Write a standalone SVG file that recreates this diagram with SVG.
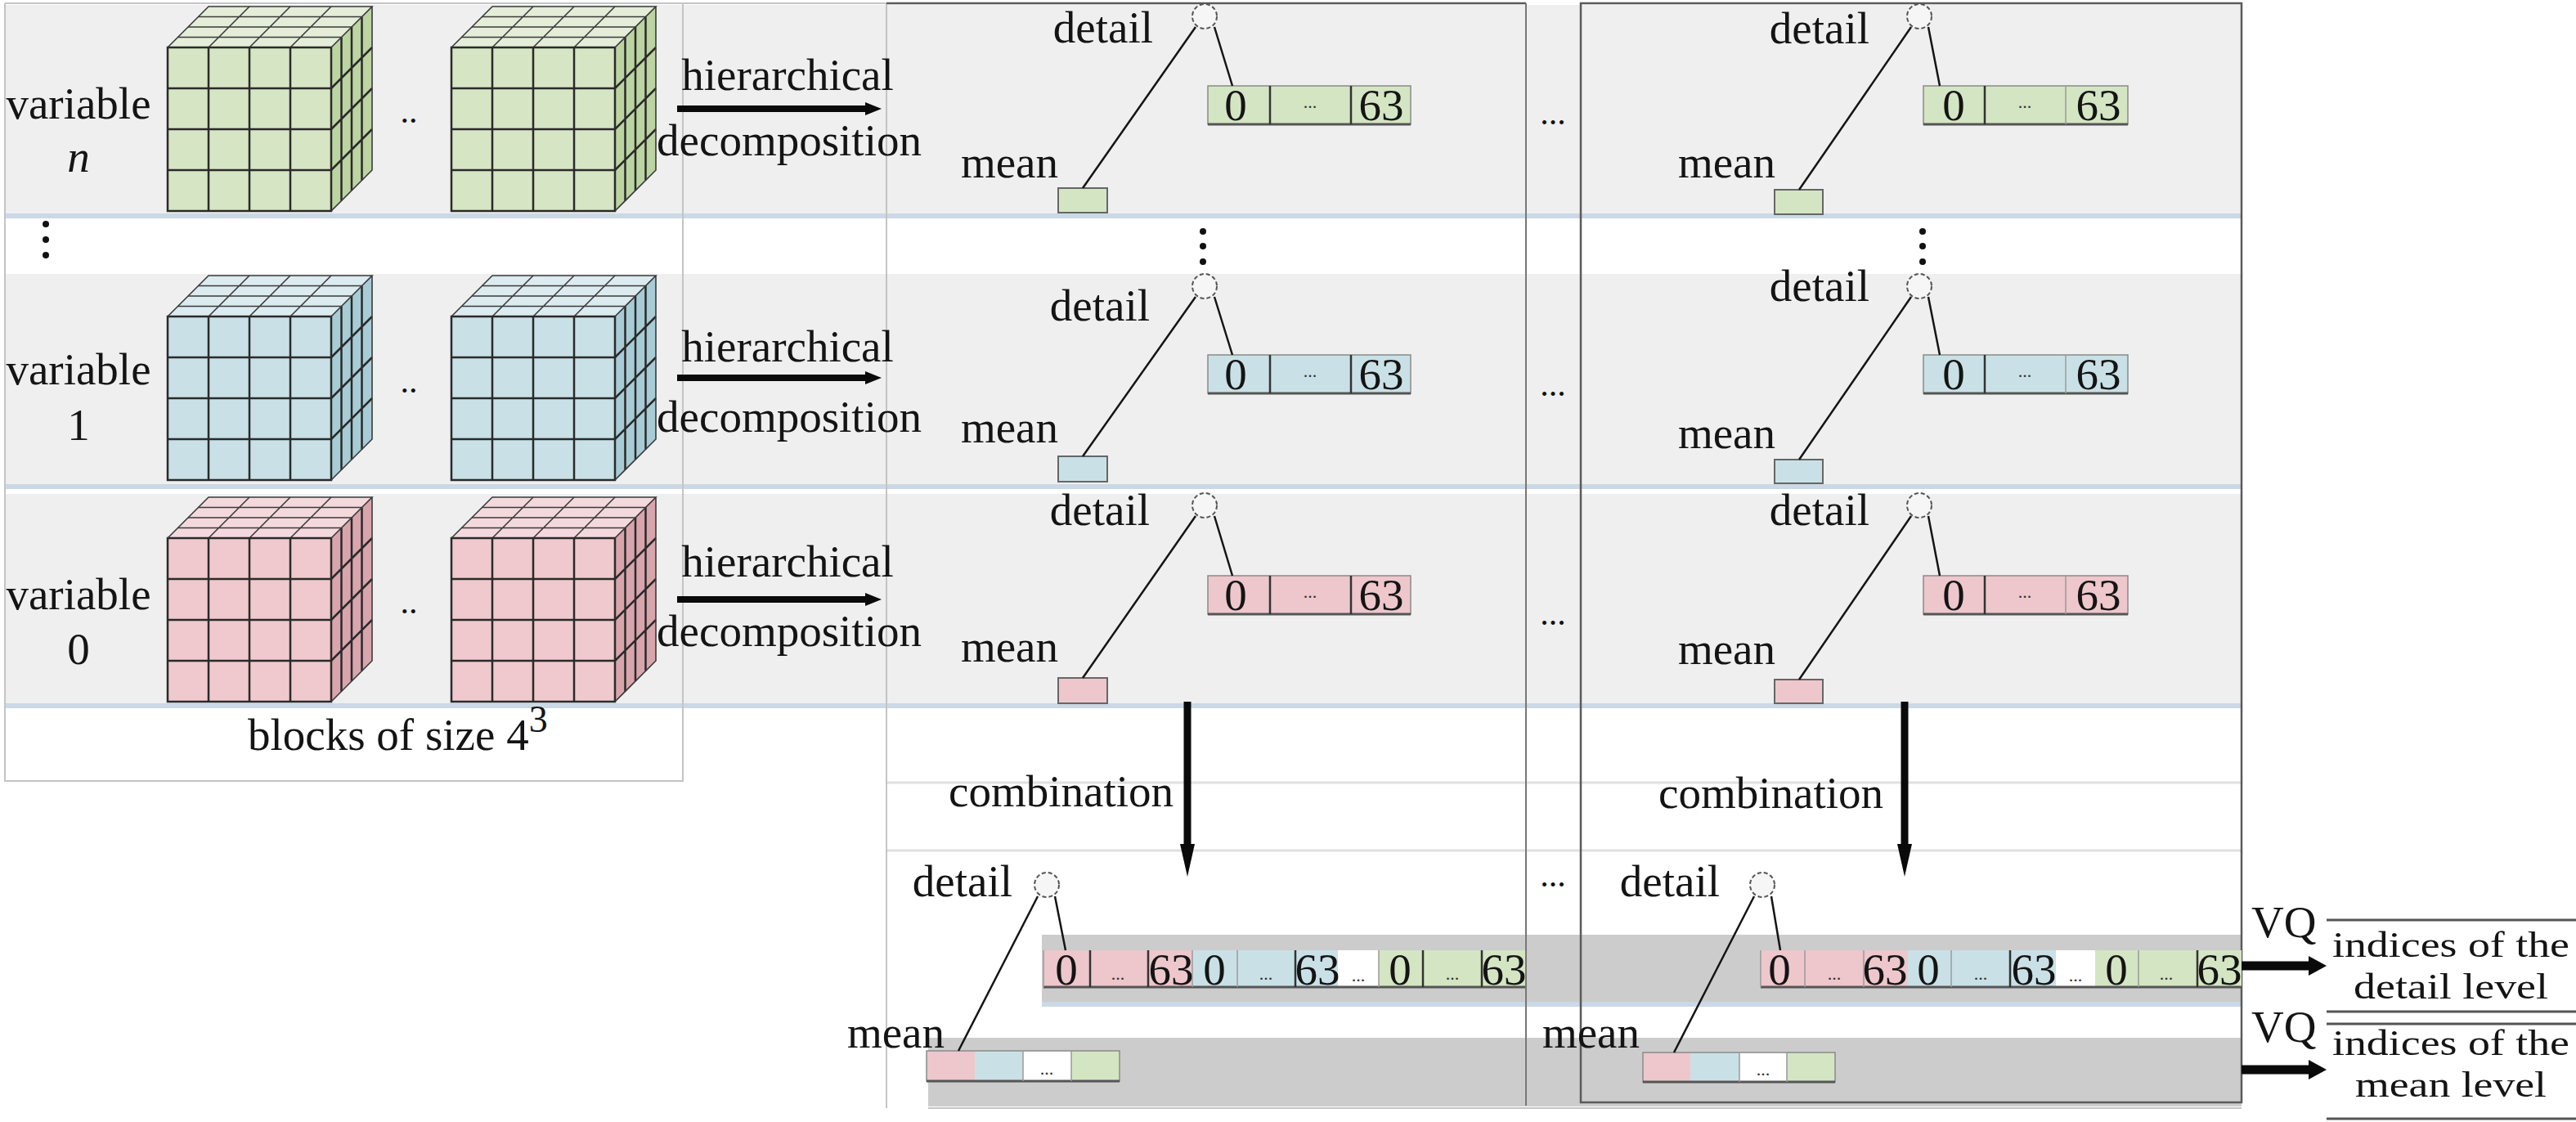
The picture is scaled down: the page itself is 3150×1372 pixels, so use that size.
<svg xmlns="http://www.w3.org/2000/svg" xmlns:xlink="http://www.w3.org/1999/xlink" width="3150" height="1372" viewBox="0 0 3150 1372">
<style>
.t{font-family:"Liberation Serif","Times New Roman",serif;font-size:55px;fill:#141414}
.r{font-family:"Liberation Serif","Times New Roman",serif;font-size:45px;fill:#141414;text-anchor:middle}
.m{text-anchor:middle}
.e{text-anchor:end}
.sd{font-family:"Liberation Serif","Times New Roman",serif;font-size:22px;fill:#333;text-anchor:middle}
.dots{font-family:"Liberation Serif","Times New Roman",serif;font-size:42px;fill:#111;text-anchor:middle}
.band{fill:#efefef}
.bline{stroke:#cbd8e6;stroke-width:6}
.gband{fill:#cccccc}
.fl{stroke:#e0e0e0;stroke-width:3}
.lb{stroke:#c4c4c4;stroke-width:2;fill:none}
.db{stroke:#5a5a5a;stroke-width:2.5;fill:none}
.gr{fill:#d4e5c3}.bl{fill:#c9e1e6}.pk{fill:#edc7cc}.wh{fill:#ffffff}
.cell{stroke:#8a8a8a;stroke-width:1.5}
.sbot{stroke:#555;stroke-width:3}
.div{stroke:#333;stroke-width:2.5}
.ldiv{stroke:#9a9a9a;stroke-width:1.5}
.mbox{stroke:#666;stroke-width:2}
.node{fill:#f6f6f6;stroke:#555;stroke-width:2;stroke-dasharray:5 3}
.tl{stroke:#151515;stroke-width:2.5;fill:none}
.arr{stroke:#0a0a0a;fill:none}
.rl{stroke:#555;stroke-width:3}
.cf{stroke:#2a2a2a;stroke-width:2.5;fill:none}
.ct{stroke:#3a3a3a;stroke-width:1.6;fill:none}
.vd{fill:#111}
</style>
<defs>
<marker id="ah" markerUnits="userSpaceOnUse" viewBox="0 0 20 16" refX="2" refY="8" markerWidth="20" markerHeight="16" orient="auto"><path d="M0,0 L20,8 L0,16 z" fill="#0a0a0a"/></marker>
<marker id="ahv" markerUnits="userSpaceOnUse" viewBox="0 0 40 18" refX="2" refY="9" markerWidth="40" markerHeight="18" orient="auto"><path d="M0,0 L40,9 L0,18 z" fill="#0a0a0a"/></marker>
<marker id="aho" markerUnits="userSpaceOnUse" viewBox="0 0 22 24" refX="2" refY="12" markerWidth="22" markerHeight="24" orient="auto"><path d="M0,0 L22,12 L0,24 z" fill="#0a0a0a"/></marker>
<g id="cubegrid">
<path class="cf" d="M50,50V250 M100,50V250 M150,50V250 M0,100H200 M0,150H200 M0,200H200"/>
<path class="ct" d="M50,50L100,0 M100,50L150,0 M150,50L200,0 M12.5,37.5H212.5 M25,25H225 M37.5,12.5H237.5"/>
<path class="cf" d="M212.5,37.5V237.5 M225,25V225 M237.5,12.5V212.5 M200,100L250,50 M200,150L250,100 M200,200L250,150"/>
<rect class="cf" x="0" y="50" width="200" height="200"/>
<path class="ct" d="M0,50L50,0H250L200,50 M250,0V200L200,250"/>
</g>
<g id="cube-green">
<rect x="0" y="50" width="200" height="200" fill="#d6e5c4"/>
<polygon points="0,50 50,0 250,0 200,50" fill="#e3edd8"/>
<polygon points="200,50 250,0 250,200 200,250" fill="#bcd4a2"/>
<use href="#cubegrid"/>
</g>
<g id="cube-blue">
<rect x="0" y="50" width="200" height="200" fill="#c8e0e6"/>
<polygon points="0,50 50,0 250,0 200,50" fill="#dcebef"/>
<polygon points="200,50 250,0 250,200 200,250" fill="#a8ccd5"/>
<use href="#cubegrid"/>
</g>
<g id="cube-pink">
<rect x="0" y="50" width="200" height="200" fill="#efc9cd"/>
<polygon points="0,50 50,0 250,0 200,50" fill="#f4d9dc"/>
<polygon points="200,50 250,0 250,200 200,250" fill="#d9a5ad"/>
<use href="#cubegrid"/>
</g>
</defs>

<rect x="0" y="0" width="3150" height="1372" fill="#ffffff"/>

<g id="backgrounds">
<rect class="band" x="6" y="6" width="2735" height="255"/>
<line class="bline" x1="6" y1="264" x2="2741" y2="264"/>
<rect class="band" x="6" y="335" width="2735" height="257"/>
<line class="bline" x1="6" y1="595" x2="2741" y2="595"/>
<rect class="band" x="6" y="604" width="2735" height="256"/>
<line class="bline" x1="6" y1="863" x2="2741" y2="863"/>
<line class="fl" x1="1084" y1="957" x2="2741" y2="957"/>
<line class="fl" x1="1084" y1="1040" x2="2741" y2="1040"/>
<rect class="gband" x="1274" y="1143" width="1467" height="83"/>
<line class="bline" x1="1274" y1="1228" x2="2741" y2="1228"/>
<rect class="gband" x="1135" y="1269" width="1606" height="84"/>
<line class="lb" x1="1135" y1="1355" x2="2741" y2="1355"/>
</g>

<g id="panels">
<path class="lb" d="M6,4 H1084 M6,4 V955 H835 V4"/>
<line class="lb" x1="1084" y1="4" x2="1084" y2="1355"/>
<line class="db" x1="1084" y1="4" x2="1866" y2="4"/>
<line x1="1866" y1="4" x2="1866" y2="1352" stroke="#777" stroke-width="2"/>
<rect class="db" x="1933" y="4" width="808" height="1344"/>
</g>

<g id="var-n">
<text class="t m" x="96" y="145">variable</text>
<text class="t m" x="96" y="210" font-style="italic">n</text>
<use href="#cube-green" x="205" y="8"/>
<text class="dots" x="500" y="150">..</text>
<use href="#cube-green" x="552" y="8"/>
</g>
<g id="var-dots">
<circle class="vd" cx="56" cy="274" r="4"/><circle class="vd" cx="56" cy="293" r="4"/><circle class="vd" cx="56" cy="312" r="4"/>
</g>
<g id="var-1">
<text class="t m" x="96" y="470">variable</text>
<text class="t m" x="96" y="538">1</text>
<use href="#cube-blue" x="205" y="337"/>
<text class="dots" x="500" y="480">..</text>
<use href="#cube-blue" x="552" y="337"/>
</g>
<g id="var-0">
<text class="t m" x="96" y="745">variable</text>
<text class="t m" x="96" y="812">0</text>
<use href="#cube-pink" x="205" y="608"/>
<text class="dots" x="500" y="750">..</text>
<use href="#cube-pink" x="552" y="608"/>
</g>
<g id="blocks-label">
<text class="t" x="303" y="917">blocks of size 4<tspan font-size="46" dy="-22">3</tspan></text>
</g>

<g id="decomp-labels">
<text class="t m" x="963" y="110">hierarchical</text>
<text class="t m" x="965" y="190">decomposition</text>
<text class="t m" x="963" y="442">hierarchical</text>
<text class="t m" x="965" y="528">decomposition</text>
<text class="t m" x="963" y="705">hierarchical</text>
<text class="t m" x="965" y="790">decomposition</text>
</g>

<g id="c1-rn">
<text class="t e" x="1410" y="52">detail</text>
<circle class="node" cx="1473" cy="20" r="15"/>
<rect class="gr mbox" x="1294" y="230" width="60" height="30"/>
<text class="t e" x="1294" y="217">mean</text>
<rect class="gr cell" x="1477" y="105" width="248" height="47"/>
<line class="sbot" x1="1477" y1="152" x2="1725" y2="152"/>
<line class="div" x1="1553" y1="105" x2="1553" y2="152"/>
<line class="div" x1="1652" y1="105" x2="1652" y2="152"/>
<text class="t m" x="1511" y="147">0</text>
<text class="sd" x="1602" y="132">...</text>
<text class="t m" x="1689" y="147">63</text>
</g>
<g id="c1-dots">
<circle class="vd" cx="1471" cy="283" r="4"/><circle class="vd" cx="1471" cy="301" r="4"/><circle class="vd" cx="1471" cy="320" r="4"/>
</g>
<g id="c1-r1">
<text class="t e" x="1406" y="392">detail</text>
<circle class="node" cx="1473" cy="350" r="15"/>
<rect class="bl mbox" x="1294" y="558" width="60" height="31"/>
<text class="t e" x="1294" y="541">mean</text>
<rect class="bl cell" x="1477" y="434" width="248" height="47"/>
<line class="sbot" x1="1477" y1="481" x2="1725" y2="481"/>
<line class="div" x1="1553" y1="434" x2="1553" y2="481"/>
<line class="div" x1="1652" y1="434" x2="1652" y2="481"/>
<text class="t m" x="1511" y="476">0</text>
<text class="sd" x="1602" y="461">...</text>
<text class="t m" x="1689" y="476">63</text>
</g>
<g id="c1-r0">
<text class="t e" x="1406" y="642">detail</text>
<circle class="node" cx="1473" cy="618" r="15"/>
<rect class="pk mbox" x="1294" y="829" width="60" height="31"/>
<text class="t e" x="1294" y="809">mean</text>
<rect class="pk cell" x="1477" y="704" width="248" height="47"/>
<line class="sbot" x1="1477" y1="751" x2="1725" y2="751"/>
<line class="div" x1="1553" y1="704" x2="1553" y2="751"/>
<line class="div" x1="1652" y1="704" x2="1652" y2="751"/>
<text class="t m" x="1511" y="746">0</text>
<text class="sd" x="1602" y="731">...</text>
<text class="t m" x="1689" y="746">63</text>
</g>

<g id="c2-rn">
<text class="t e" x="2286" y="53">detail</text>
<circle class="node" cx="2347" cy="20" r="15"/>
<rect class="gr mbox" x="2170" y="232" width="59" height="30"/>
<text class="t e" x="2171" y="217">mean</text>
<rect class="gr cell" x="2352" y="105" width="250" height="47"/>
<line class="sbot" x1="2352" y1="152" x2="2602" y2="152"/>
<line class="div" x1="2427" y1="105" x2="2427" y2="152"/>
<line class="ldiv" x1="2526" y1="105" x2="2526" y2="152"/>
<text class="t m" x="2389" y="147">0</text>
<text class="sd" x="2476" y="132">...</text>
<text class="t m" x="2566" y="147">63</text>
</g>
<g id="c2-dots">
<circle class="vd" cx="2351" cy="283" r="4"/><circle class="vd" cx="2351" cy="301" r="4"/><circle class="vd" cx="2351" cy="320" r="4"/>
</g>
<g id="c2-r1">
<text class="t e" x="2286" y="368">detail</text>
<circle class="node" cx="2347" cy="350" r="15"/>
<rect class="bl mbox" x="2170" y="562" width="59" height="29"/>
<text class="t e" x="2171" y="548">mean</text>
<rect class="bl cell" x="2352" y="434" width="250" height="47"/>
<line class="sbot" x1="2352" y1="481" x2="2602" y2="481"/>
<line class="div" x1="2427" y1="434" x2="2427" y2="481"/>
<line class="ldiv" x1="2526" y1="434" x2="2526" y2="481"/>
<text class="t m" x="2389" y="476">0</text>
<text class="sd" x="2476" y="461">...</text>
<text class="t m" x="2566" y="476">63</text>
</g>
<g id="c2-r0">
<text class="t e" x="2286" y="642">detail</text>
<circle class="node" cx="2347" cy="618" r="15"/>
<rect class="pk mbox" x="2170" y="831" width="59" height="29"/>
<text class="t e" x="2171" y="812">mean</text>
<rect class="pk cell" x="2352" y="704" width="250" height="47"/>
<line class="sbot" x1="2352" y1="751" x2="2602" y2="751"/>
<line class="div" x1="2427" y1="704" x2="2427" y2="751"/>
<line class="ldiv" x1="2526" y1="704" x2="2526" y2="751"/>
<text class="t m" x="2389" y="746">0</text>
<text class="sd" x="2476" y="731">...</text>
<text class="t m" x="2566" y="746">63</text>
</g>

<g id="between-cols">
<text class="dots" x="1899" y="152">...</text>
<text class="dots" x="1899" y="484">...</text>
<text class="dots" x="1899" y="764">...</text>
<text class="dots" x="1899" y="1084">...</text>
</g>

<g id="combination-labels">
<text class="t" x="1160" y="986">combination</text>
<text class="t" x="2028" y="988">combination</text>
</g>

<g id="c1-combined">
<text class="t e" x="1238" y="1096">detail</text>
<circle class="node" cx="1280" cy="1082" r="15"/>
<rect class="pk" x="1276" y="1162" width="182" height="45"/>
<rect class="bl" x="1458" y="1162" width="178" height="45"/>
<rect class="wh" x="1636" y="1162" width="50" height="45"/>
<rect class="gr" x="1686" y="1162" width="179" height="45"/>
<line class="sbot" x1="1276" y1="1207" x2="1865" y2="1207"/>
<line class="ldiv" x1="1276" y1="1162" x2="1276" y2="1207"/>
<line class="div" x1="1333" y1="1162" x2="1333" y2="1207"/>
<line class="div" x1="1404" y1="1162" x2="1404" y2="1207"/>
<line class="ldiv" x1="1458" y1="1162" x2="1458" y2="1207"/>
<line class="ldiv" x1="1513" y1="1162" x2="1513" y2="1207"/>
<line class="div" x1="1584" y1="1162" x2="1584" y2="1207"/>
<line class="ldiv" x1="1686" y1="1162" x2="1686" y2="1207"/>
<line class="div" x1="1740" y1="1162" x2="1740" y2="1207"/>
<line class="div" x1="1812" y1="1162" x2="1812" y2="1207"/>
<text class="t m" x="1304" y="1204">0</text>
<text class="sd" x="1367" y="1198">...</text>
<text class="t m" x="1432" y="1204">63</text>
<text class="t m" x="1485" y="1204">0</text>
<text class="sd" x="1548" y="1198">...</text>
<text class="t m" x="1611" y="1204">63</text>
<text class="sd" x="1661" y="1200">...</text>
<text class="t m" x="1712" y="1204">0</text>
<text class="sd" x="1776" y="1198">...</text>
<text class="t m" x="1839" y="1204">63</text>
<text class="t e" x="1155" y="1281">mean</text>
<rect class="pk" x="1133" y="1285" width="59" height="37"/>
<rect class="bl" x="1192" y="1285" width="59" height="37"/>
<rect class="wh" x="1251" y="1285" width="59" height="37"/>
<rect class="gr" x="1310" y="1285" width="59" height="37"/>
<rect class="cell" x="1133" y="1285" width="236" height="37" fill="none"/>
<line class="sbot" x1="1133" y1="1322" x2="1369" y2="1322"/>
<line class="ldiv" x1="1251" y1="1285" x2="1251" y2="1322"/>
<line class="ldiv" x1="1310" y1="1285" x2="1310" y2="1322"/>
<text class="sd" x="1280" y="1314">...</text>
</g>

<g id="c2-combined">
<text class="t e" x="2103" y="1096">detail</text>
<circle class="node" cx="2155" cy="1082" r="15"/>
<rect class="pk" x="2153" y="1162" width="180" height="45"/>
<rect class="bl" x="2333" y="1162" width="181" height="45"/>
<rect class="wh" x="2514" y="1162" width="48" height="45"/>
<rect class="gr" x="2562" y="1162" width="179" height="45"/>
<line class="sbot" x1="2153" y1="1207" x2="2741" y2="1207"/>
<line class="ldiv" x1="2153" y1="1162" x2="2153" y2="1207"/>
<line class="ldiv" x1="2207" y1="1162" x2="2207" y2="1207"/>
<line class="ldiv" x1="2279" y1="1162" x2="2279" y2="1207"/>
<line class="ldiv" x1="2386" y1="1162" x2="2386" y2="1207"/>
<line class="div" x1="2458" y1="1162" x2="2458" y2="1207"/>
<line class="ldiv" x1="2615" y1="1162" x2="2615" y2="1207"/>
<line class="div" x1="2687" y1="1162" x2="2687" y2="1207"/>
<text class="t m" x="2176" y="1204">0</text>
<text class="sd" x="2243" y="1198">...</text>
<text class="t m" x="2305" y="1204">63</text>
<text class="t m" x="2358" y="1204">0</text>
<text class="sd" x="2422" y="1198">...</text>
<text class="t m" x="2487" y="1204">63</text>
<text class="sd" x="2538" y="1200">...</text>
<text class="t m" x="2588" y="1204">0</text>
<text class="sd" x="2649" y="1198">...</text>
<text class="t m" x="2714" y="1204">63</text>
<text class="t e" x="2005" y="1281">mean</text>
<rect class="pk" x="2009" y="1287" width="58" height="36"/>
<rect class="bl" x="2067" y="1287" width="60" height="36"/>
<rect class="wh" x="2127" y="1287" width="58" height="36"/>
<rect class="gr" x="2185" y="1287" width="59" height="36"/>
<rect class="cell" x="2009" y="1287" width="235" height="36" fill="none"/>
<line class="sbot" x1="2009" y1="1323" x2="2244" y2="1323"/>
<line class="ldiv" x1="2127" y1="1287" x2="2127" y2="1323"/>
<line class="ldiv" x1="2185" y1="1287" x2="2185" y2="1323"/>
<text class="sd" x="2156" y="1315">...</text>
</g>

<g id="outputs">
<text class="t" x="2753" y="1146">VQ</text>
<text class="t" x="2753" y="1274">VQ</text>
<line class="rl" x1="2845" y1="1125" x2="3150" y2="1125"/>
<line class="rl" x1="2845" y1="1237" x2="3150" y2="1237"/>
<line class="rl" x1="2845" y1="1252" x2="3150" y2="1252"/>
<line class="rl" x1="2845" y1="1368" x2="3150" y2="1368"/>
<text class="r" x="2997" y="1170" textLength="290" lengthAdjust="spacingAndGlyphs">indices of the</text>
<text class="r" x="2997" y="1221" textLength="238" lengthAdjust="spacingAndGlyphs">detail level</text>
<text class="r" x="2997" y="1290" textLength="290" lengthAdjust="spacingAndGlyphs">indices of the</text>
<text class="r" x="2997" y="1341" textLength="234" lengthAdjust="spacingAndGlyphs">mean level</text>
</g>

<g id="connectors">
<line class="arr" x1="828" y1="133" x2="1060" y2="133" stroke-width="8" marker-end="url(#ah)"/>
<line class="arr" x1="828" y1="462" x2="1060" y2="462" stroke-width="8" marker-end="url(#ah)"/>
<line class="arr" x1="828" y1="733" x2="1060" y2="733" stroke-width="8" marker-end="url(#ah)"/>
<path class="tl" d="M1462,33 L1324,230 M1485,33 L1507,105"/>
<path class="tl" d="M1462,363 L1324,558 M1485,363 L1507,434"/>
<path class="tl" d="M1462,631 L1324,829 M1485,631 L1507,704"/>
<path class="tl" d="M2337,33 L2200,232 M2358,33 L2372,105"/>
<path class="tl" d="M2337,363 L2200,562 M2358,363 L2372,434"/>
<path class="tl" d="M2337,631 L2200,831 M2358,631 L2372,704"/>
<line class="arr" x1="1452" y1="858" x2="1452" y2="1034" stroke-width="9" marker-end="url(#ahv)"/>
<line class="arr" x1="2329" y1="858" x2="2329" y2="1034" stroke-width="9" marker-end="url(#ahv)"/>
<path class="tl" d="M1269,1096 L1172,1285 M1290,1096 L1303,1162"/>
<path class="tl" d="M2145,1096 L2047,1287 M2166,1096 L2177,1162"/>
<line class="arr" x1="2741" y1="1181" x2="2825" y2="1181" stroke-width="11" marker-end="url(#aho)"/>
<line class="arr" x1="2741" y1="1308" x2="2825" y2="1308" stroke-width="11" marker-end="url(#aho)"/>
</g>
</svg>
